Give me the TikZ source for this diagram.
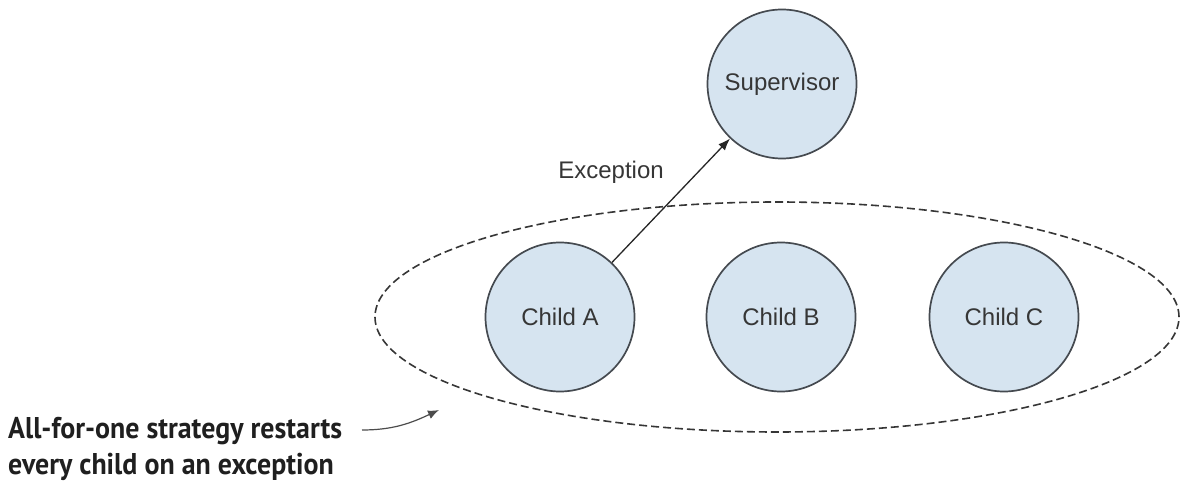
\documentclass[tikz,border=0pt]{standalone}
\usepackage{fontspec}
\setmainfont{Liberation Sans}
\newfontfamily\notefont[FakeStretch=0.93]{PT Sans}
\usetikzlibrary{shapes.geometric,arrows.meta}
\definecolor{inkgray}{HTML}{363636}
\definecolor{nodefill}{HTML}{D6E4F0}
\definecolor{nodeline}{HTML}{454A50}
\begin{document}
\begin{tikzpicture}[x=1pt,y=-1pt,
  actor/.style={circle,draw=nodeline,line width=1.7pt,fill=nodefill,
    minimum size=149pt,inner sep=0pt,text=inkgray,
    font=\fontsize{24}{28}\selectfont},
  label/.style={text=inkgray,font=\fontsize{24}{28}\selectfont},
  group/.style={ellipse,draw=inkgray,line width=1.6pt,
    dash pattern=on 8pt off 4pt,minimum width=804pt,minimum height=230pt,inner sep=0pt},
  note/.style={text=black!88,align=left,inner sep=0pt,
    font=\notefont\bfseries\fontsize{30}{36}\selectfont},
  link/.style={draw=black!85,line width=1.3pt,-{Latex[length=12pt,width=9pt]}},
  pointer/.style={draw=black!70,line width=1.2pt,-{Latex[length=11pt,width=9pt]}}]
\useasboundingbox (0,0) rectangle (1181,481);

% restart group around the three children
\node[group] (grp) at (777,317) {};

% supervisor and its children
\node[actor] (sup) at (782,84) {Supervisor};
\node[actor] (ca) at (560,317) {Child A};
\node[actor] (cb) at (781,317) {Child B};
\node[actor] (cc) at (1004,317) {Child C};

% failure escalated to the supervisor
\draw[link] (ca) -- (sup);
\node[label] (exc) at (611,172) {Exception};

% explanatory note with a curved pointer
\node[note,anchor=base west] (note) at (8,474)
  {All-for-one strategy restarts\\every child on an exception};
\coordinate (tail) at (362,430);
\coordinate (tip) at (439,410);
\draw[pointer] (tail) to[out=0,in=205] (tip);
\end{tikzpicture}
\end{document}
